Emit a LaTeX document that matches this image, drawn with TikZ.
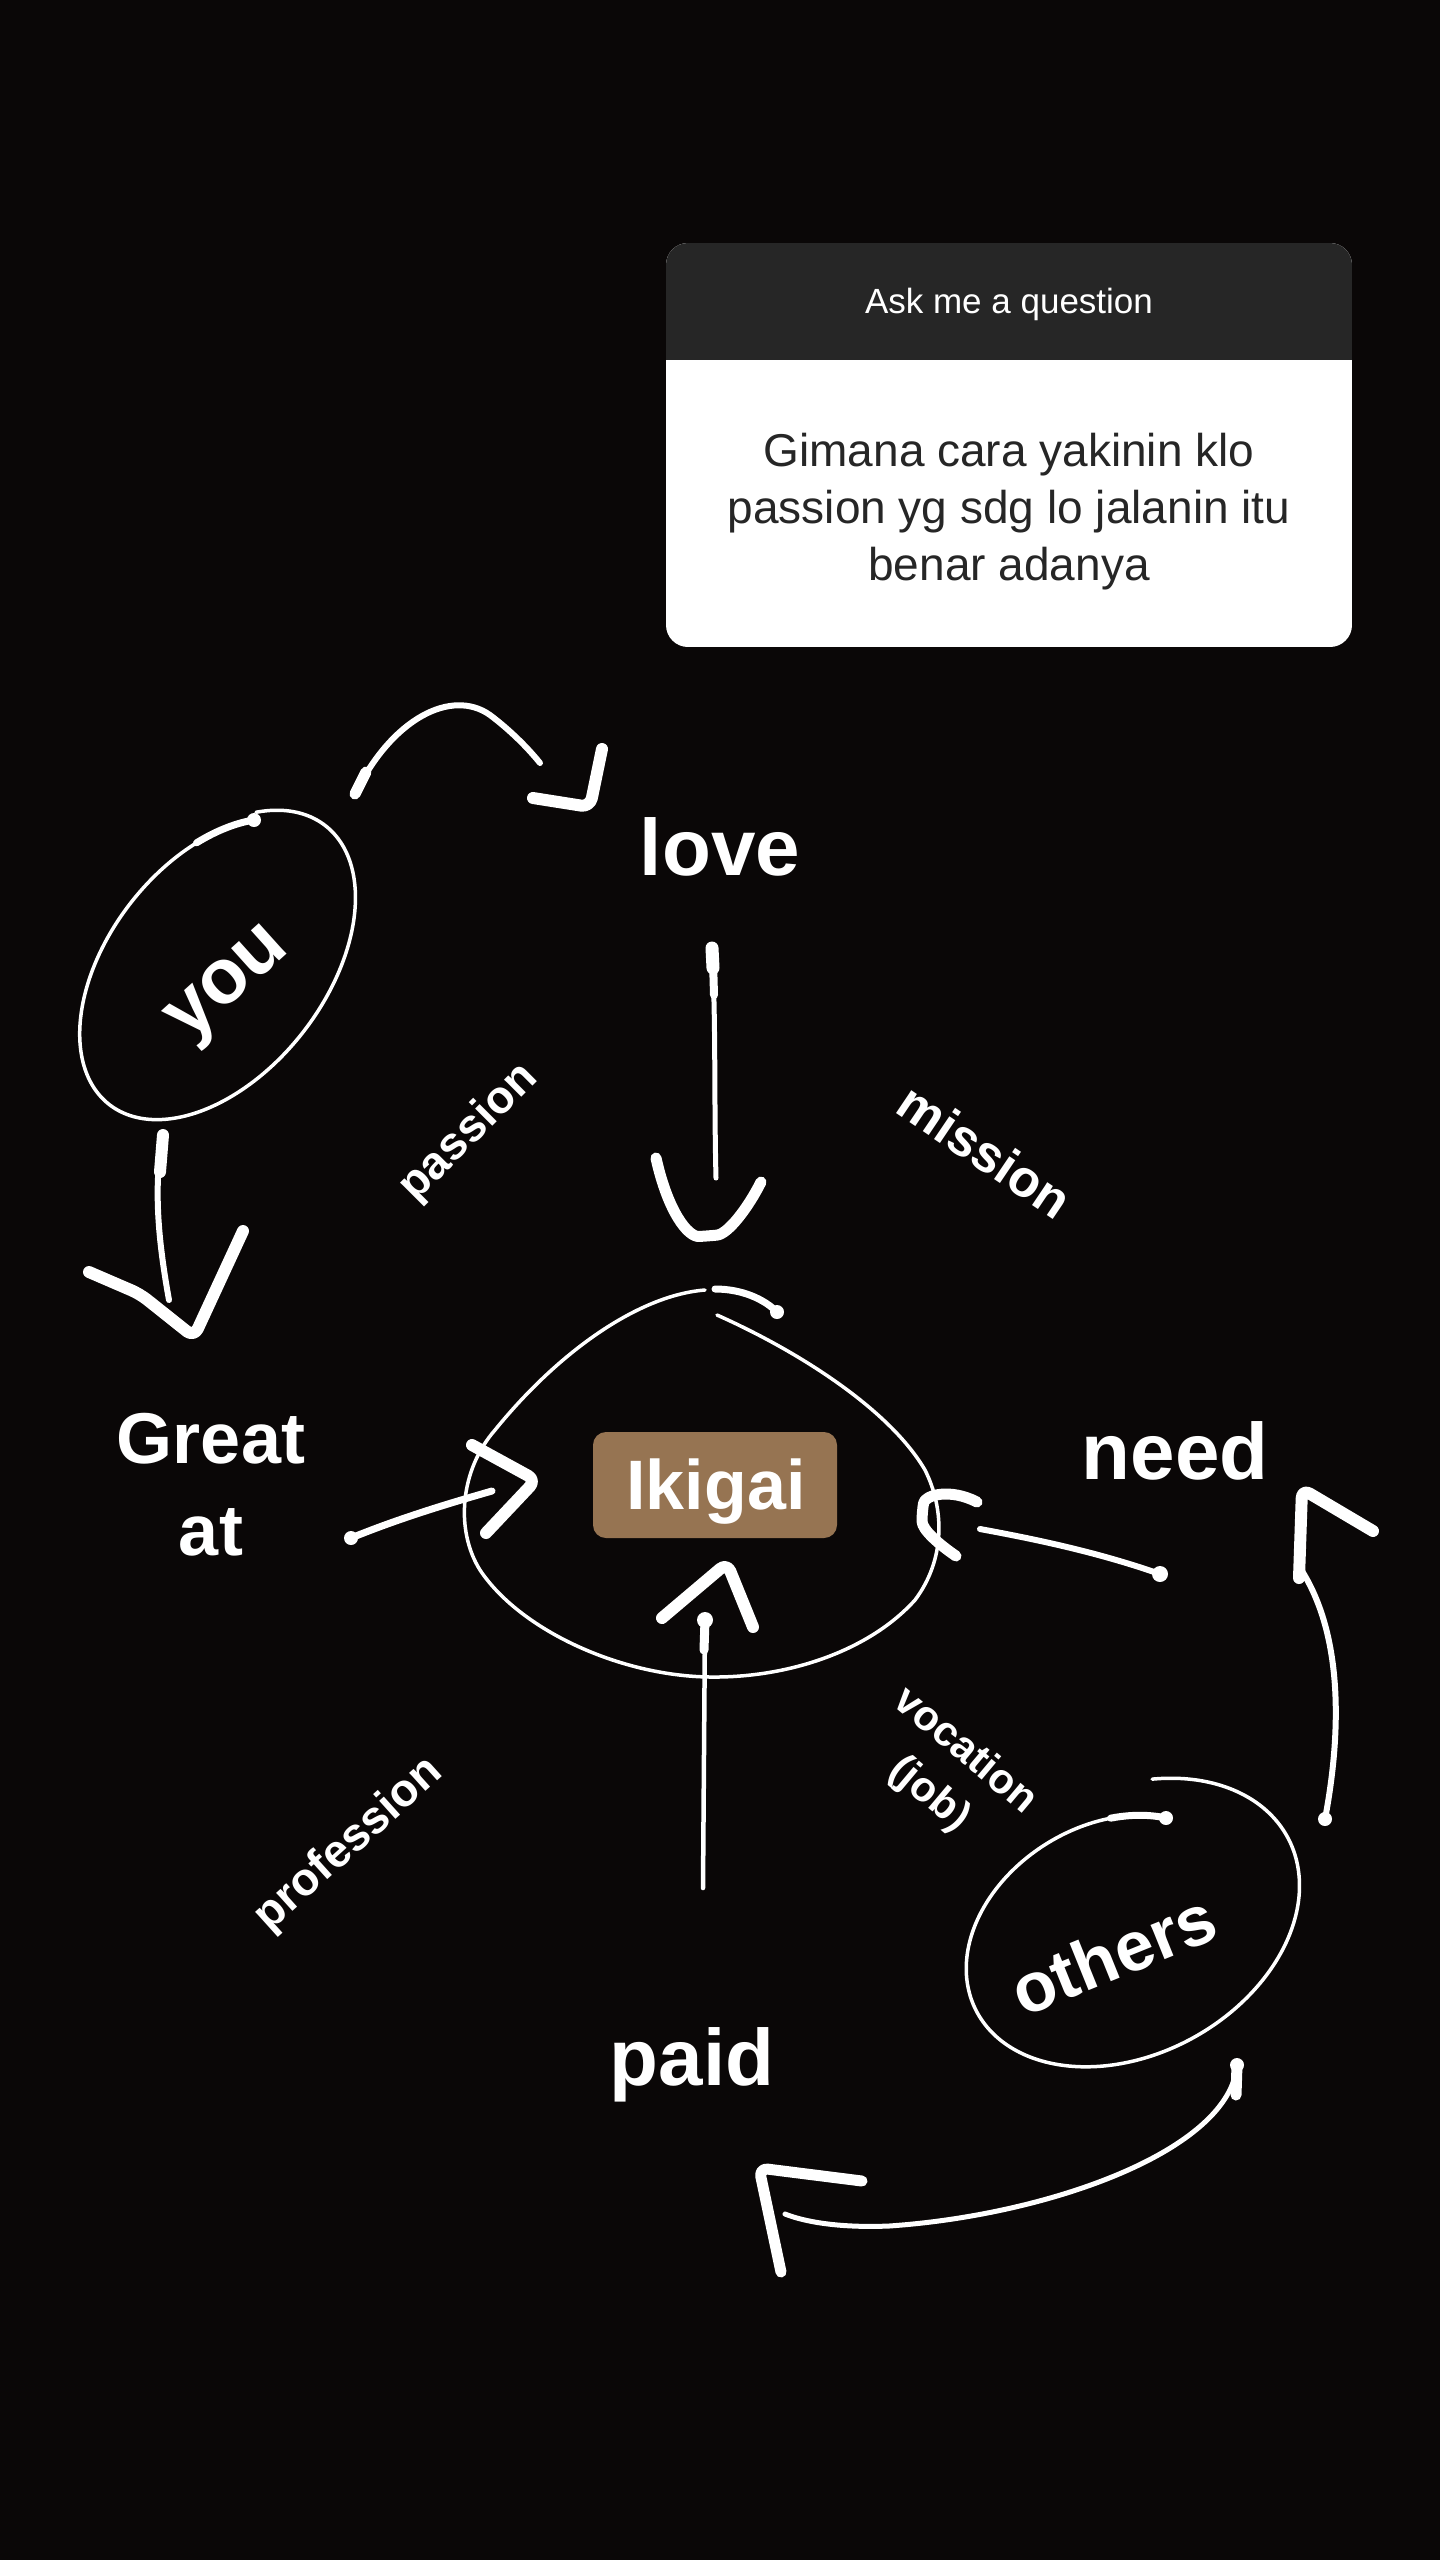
\documentclass[tikz,border=0pt]{standalone}
\usepackage{fontspec}
\setmainfont{Liberation Sans}
\setsansfont{Liberation Sans}
\usetikzlibrary{positioning}
\definecolor{bgcol}{HTML}{0A0707}
\definecolor{cardhead}{HTML}{262626}
\definecolor{cardink}{HTML}{262626}
\definecolor{ikigaicol}{HTML}{967452}
\tikzset{
  word/.style={text=white, inner sep=0pt, font=\bfseries\fontsize{80}{80}\selectfont},
  smalltag/.style={text=white, inner sep=0pt, font=\bfseries\fontsize{46}{46}\selectfont},
  ring/.style={draw=white, line width=3.5pt},
  shaft/.style={draw=white, line width=6pt, line cap=round, line join=round},
  arrowhd/.style={draw=white, line width=12pt, line cap=round, line join=round, rounded corners=9pt},
  dab/.style={fill=white},
  ikibox/.style={fill=ikigaicol, rounded corners=13pt, minimum width=244pt,
                 minimum height=106pt, inner sep=0pt},
}

\begin{document}
\begin{tikzpicture}[x=1pt, y=-1pt, line cap=round, line join=round]

% ===================== BACKGROUND =====================
\useasboundingbox (0,0) rectangle (1440,2560);
\fill[bgcol] (0,0) rectangle (1440,2560);

% ===================== QUESTION CARD =====================
\begin{scope}
  \clip[rounded corners=22pt] (666,243) rectangle (1352,647);
  \fill[white] (666,243) rectangle (1352,647);
  \fill[cardhead] (666,243) rectangle (1352,360);
\end{scope}
\node[anchor=base, text=white, font=\fontsize{35}{35}\selectfont] (askme) at (1009,313)
  {Ask me a question};
% base of a multi-line node sits on its last line
\node[anchor=base, text=cardink, align=center, font=\fontsize{46}{57}\selectfont] (question) at (1009,580)
  {Gimana cara yakinin klo\\ passion yg sdg lo jalanin itu\\ benar adanya};

% ===================== WORDS =====================
\node[word, anchor=base] (love) at (720,875) {love};
\node[word, anchor=base] (need) at (1175,1479) {need};
\node[word, anchor=base] (paid) at (692,2085) {paid};
\node[word, font=\bfseries\fontsize{72}{92}\selectfont, align=center, anchor=north] (great) at (211,1413)
  {Great\\at};
\node[ikibox] (ikigai) at (715,1485) {};
\node[word, font=\bfseries\fontsize{70}{70}\selectfont, anchor=base] (ikitext) at (716,1509) {Ikigai};
\node[word, font=\bfseries\fontsize{78}{78}\selectfont, rotate=42] (you) at (231,987) {you};
\node[word, font=\bfseries\fontsize{70}{70}\selectfont, rotate=22] (others) at (1113,1954) {others};

% ---- the four overlaps ----
\node[smalltag, rotate=45] (passion) at (469,1133) {passion};
\node[smalltag, font=\bfseries\fontsize{52}{52}\selectfont, rotate=-34] (mission) at (985,1151) {mission};
\node[smalltag, rotate=42] (profession) at (349,1845) {profession};
\node[smalltag, font=\bfseries\fontsize{42}{56}\selectfont, align=center, rotate=-40] (vocation) at (947,1773)
  {vocation\\(job)};

% ===================== RINGS =====================
% you ring, loose end at the top
\draw[ring] plot[domain=-35:325, samples=140, smooth, variable=\t]
  ({216+(1-0.05*((\t+35)/360)^2)*(109.6*cos(\t)+86.7*sin(\t))},
   {966+(1-0.05*((\t+35)/360)^2)*(-140.3*cos(\t)+67.7*sin(\t))});
\draw[white, line width=7pt] plot[domain=300:325, samples=12, smooth, variable=\t]
  ({216+(1-0.05*((\t+35)/360)^2)*(109.6*cos(\t)+86.7*sin(\t))},
   {966+(1-0.05*((\t+35)/360)^2)*(-140.3*cos(\t)+67.7*sin(\t))});
\fill[dab] (254,820) circle (7pt);

% others ring, spirals inward
\draw[ring] plot[domain=-60:310, samples=140, smooth, variable=\t]
  ({1125+(1-0.27*((\t+60)/370)^3)*(163.3*cos(\t)+62.9*sin(\t))},
   {1925+(1-0.27*((\t+60)/370)^3)*(-86.9*cos(\t)+118.3*sin(\t))});
\draw[white, line width=7pt] plot[domain=285:310, samples=12, smooth, variable=\t]
  ({1125+(1-0.27*((\t+60)/370)^3)*(163.3*cos(\t)+62.9*sin(\t))},
   {1925+(1-0.27*((\t+60)/370)^3)*(-86.9*cos(\t)+118.3*sin(\t))});
\fill[dab] (1166,1818) circle (7pt);

% ikigai ring
\draw[ring] (717,1315) .. controls (800,1352) and (890,1410) .. (925,1470)
  .. controls (945,1510) and (945,1560) .. (915,1600)
  .. controls (870,1650) and (790,1678) .. (710,1677)
  .. controls (620,1676) and (520,1630) .. (480,1570)
  .. controls (455,1530) and (460,1470) .. (495,1430)
  .. controls (560,1350) and (640,1295) .. (705,1290);
\draw[white, line width=7pt] (715,1289) .. controls (742,1289) and (764,1299) .. (777,1312);
\fill[dab] (777,1312) circle (7pt);

% ===================== ARROWS =====================
% you -> love
\draw[shaft] (355,794) .. controls (392,718) and (452,688) .. (490,715)
  .. controls (510,730) and (528,748) .. (540,763);
\draw[white, line width=11pt] (355,794) -- (366,772);
\draw[arrowhd] (533,798) -- (590,807) -- (602,749);

% you -> Great at
\draw[shaft] (163,1135) .. controls (152,1190) and (160,1250) .. (169,1300);
\draw[white, line width=12pt] (163,1135) -- (160,1172);
\draw[arrowhd] (89,1272) -- (140,1294) -- (194,1337) -- (243,1231);

% love -> ikigai
\draw[shaft, line width=5pt] (712,948) .. controls (716,1020) and (714,1100) .. (716,1178);
\draw[white, line width=13pt] (712,948) -- (713,968);
\draw[white, line width=8pt] (713,960) -- (714,995);
\draw[arrowhd, line width=11pt] (656,1158) .. controls (668,1212) and (688,1237) .. (708,1236)
  .. controls (728,1234) and (748,1208) .. (761,1182);

% Great at -> ikigai
\draw[shaft, line width=7pt] (351,1538) .. controls (400,1518) and (450,1503) .. (492,1491);
\fill[dab] (351,1538) circle (7pt);
\draw[arrowhd] (472,1445) -- (536,1480) -- (486,1533);

% need -> ikigai
\draw[shaft] (1160,1574) .. controls (1100,1553) and (1040,1540) .. (980,1529);
\fill[dab] (1160,1574) circle (8pt);
\draw[arrowhd, line width=11pt] (977,1502) .. controls (950,1488) and (925,1495) .. (922,1512)
  .. controls (922,1530) and (940,1545) .. (956,1556);

% paid -> ikigai
\draw[shaft, line width=4.5pt] (703,1888) -- (705,1620);
\draw[white, line width=9pt] (705,1620) -- (704,1650);
\fill[dab] (705,1620) circle (8pt);
\draw[arrowhd] (662,1618) -- (727,1563) -- (753,1627);

% others -> need
\draw[shaft] (1325,1819) .. controls (1340,1740) and (1345,1640) .. (1302,1571);
\fill[dab] (1325,1819) circle (7pt);
\draw[arrowhd] (1299,1578) -- (1302,1489) -- (1373,1531);

% others -> paid
\draw[shaft, line width=5pt] (1237,2065) .. controls (1230,2150) and (1050,2215) .. (889,2226)
  .. controls (840,2228) and (805,2222) .. (785,2214);
\draw[white, line width=11pt] (1237,2065) -- (1236,2095);
\fill[dab] (1237,2065) circle (7pt);
\draw[arrowhd, line width=11pt] (862,2181) -- (759,2168) -- (781,2272);

\end{tikzpicture}
\end{document}
